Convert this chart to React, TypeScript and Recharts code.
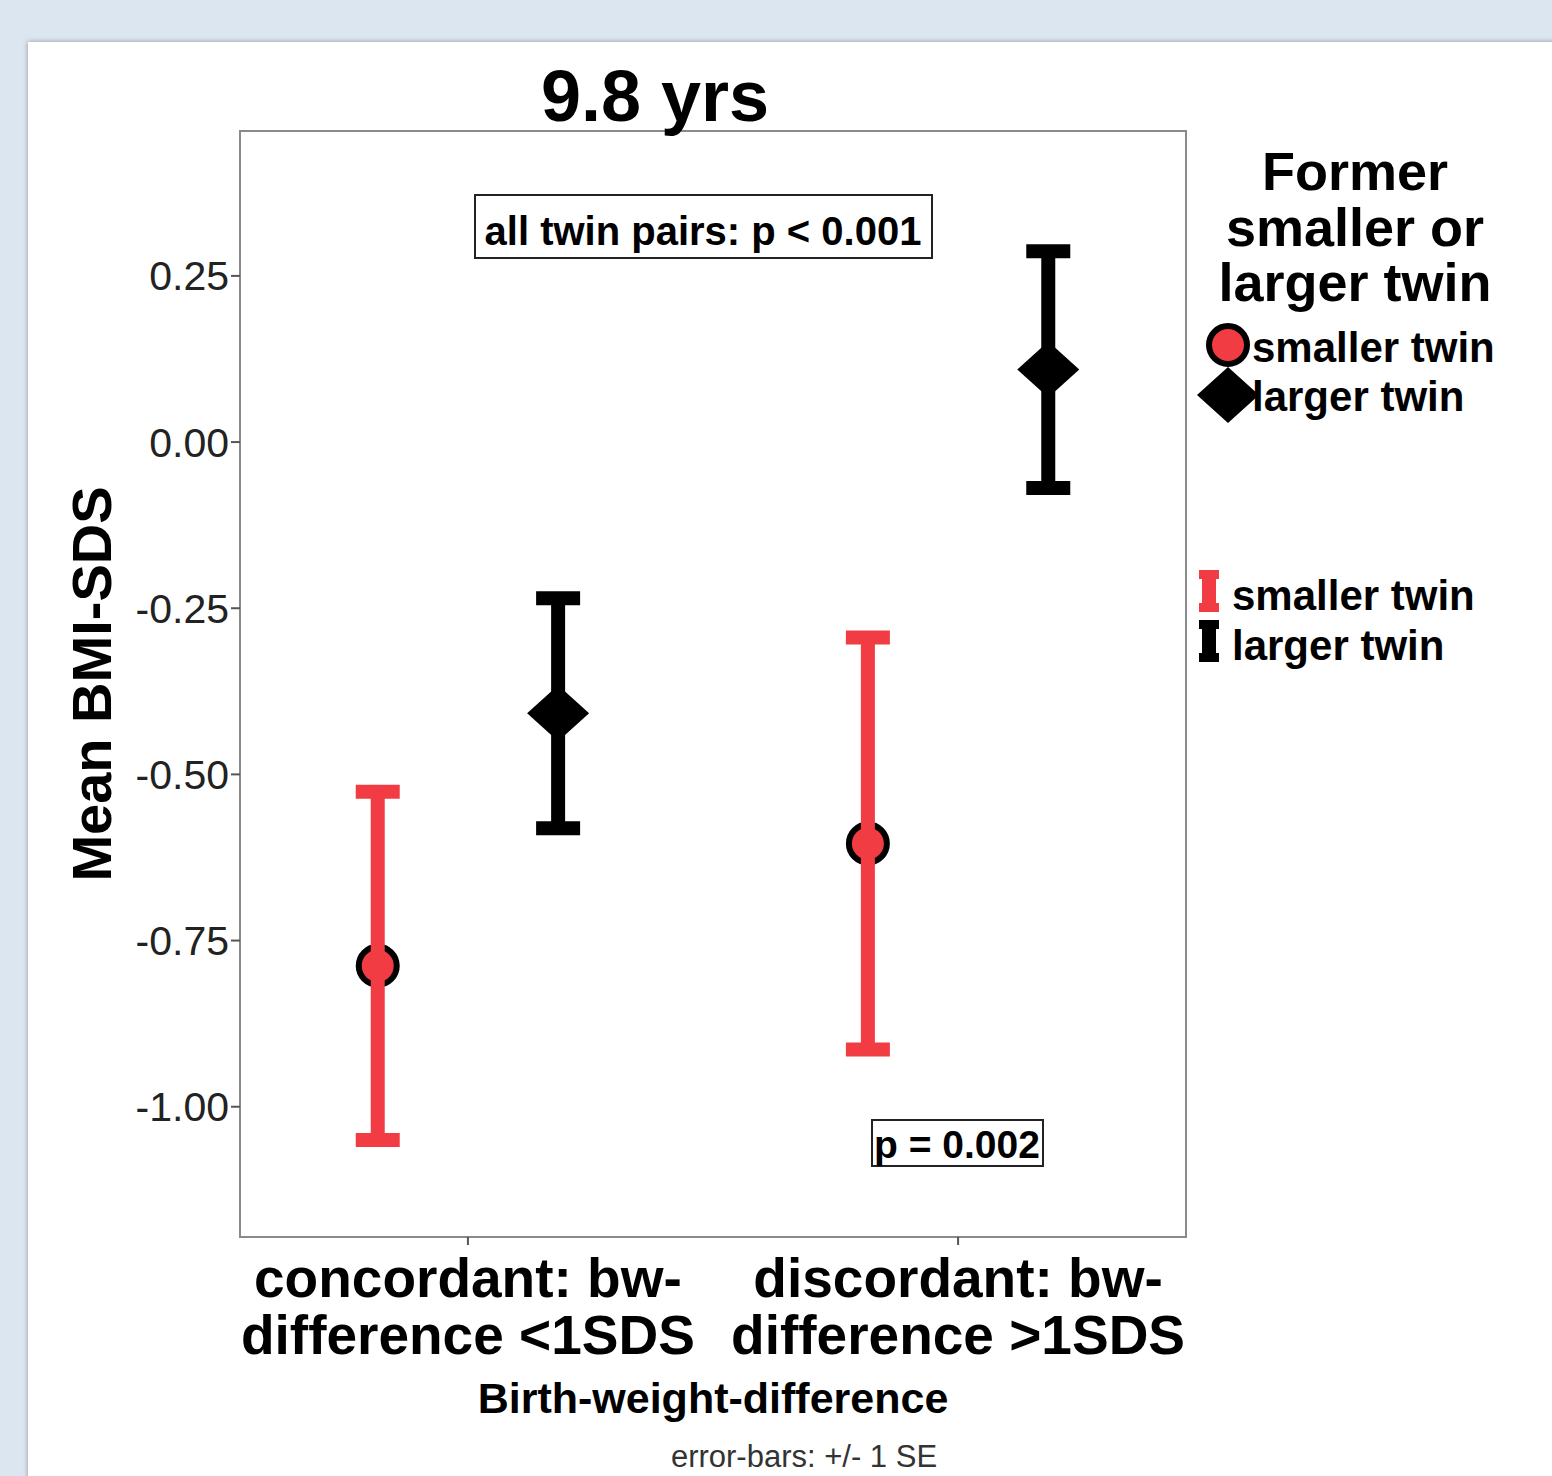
import { ScatterChart, Scatter, XAxis, YAxis, ErrorBar } from 'recharts';

// groups on the x axis
const categories = ['concordant', 'discordant'];
const categoryLabels = [
  ['concordant: bw-', 'difference <1SDS'],
  ['discordant: bw-', 'difference >1SDS'],
];

// mean BMI-SDS at 9.8 yrs and +/- 1 SE
const smallerMean = [-0.788, -0.604];
const smallerSE = [0.262, 0.31];
const largerMean = [-0.408, 0.109];
const largerSE = [0.173, 0.178];

const yTicks = [0.25, 0, -0.25, -0.5, -0.75, -1.0];

const DODGE = 0.184;
const RED = '#f03c42';
const FONT = '"Liberation Sans", Arial, Helvetica, sans-serif';

const smallerData = categories.map((c, i) => ({ name: c, x: i - DODGE, mean: smallerMean[i], se: smallerSE[i] }));
const largerData = categories.map((c, i) => ({ name: c, x: i + DODGE, mean: largerMean[i], se: largerSE[i] }));

const CircleShape = (props: any) => (
  <circle cx={props.cx} cy={props.cy} r={19} fill={RED} stroke="#000" strokeWidth={6} />
);

const DiamondShape = (props: any) => {
  const { cx, cy } = props;
  return <polygon points={`${cx - 31},${cy} ${cx},${cy - 28} ${cx + 31},${cy} ${cx},${cy + 28}`} fill="#000" />;
};

const NoShape = () => <g />;

const XTick = (props: any) => {
  const { x, y, payload } = props;
  const lines = categoryLabels[Math.round(payload.value)] || [];
  return (
    <text x={x} y={y} textAnchor="middle" fontFamily={FONT} fontWeight="bold" fontSize={55} fill="#000">
      {lines.map((l, i) => (
        <tspan key={i} x={x} dy={i === 0 ? 50 : 57}>
          {l}
        </tspan>
      ))}
    </text>
  );
};

export default function App() {
  return (
    <div style={{ position: 'absolute', left: 0, top: 0, width: 1552, height: 1476, background: '#dce6f1', overflow: 'hidden' }}>
      <div
        style={{
          position: 'absolute',
          left: 28,
          top: 42,
          width: 1540,
          height: 1450,
          background: '#fff',
          boxShadow: '0 0 5px rgba(0,0,0,0.35)',
        }}
      />
      <svg width={1552} height={1476} style={{ position: 'absolute', left: 0, top: 0 }}>
        <rect x={240} y={131} width={946} height={1106} fill="none" stroke="#8a8a8a" strokeWidth={2} />
      </svg>
      <div style={{ position: 'absolute', left: 0, top: 0 }}>
        <ScatterChart width={1552} height={1476} margin={{ top: 131, right: 366, bottom: 139, left: 140 }}>
          <XAxis
            type="number"
            dataKey="x"
            domain={[-0.465, 1.465]}
            ticks={[0, 1]}
            allowDataOverflow
            axisLine={false}
            tickLine={{ stroke: '#555', strokeWidth: 2 }}
            tickSize={8}
            height={100}
            tick={<XTick />}
            interval={0}
          />
          <YAxis
            type="number"
            dataKey="mean"
            domain={[-1.196, 0.468]}
            ticks={yTicks}
            allowDataOverflow
            axisLine={false}
            tickLine={{ stroke: '#555', strokeWidth: 2 }}
            tickSize={9}
            width={100}
            interval={0}
            tickFormatter={(v: number) => v.toFixed(2)}
            tick={{ fontSize: 41, fill: '#222', fontFamily: FONT }}
          />
          <Scatter data={smallerData} shape={<CircleShape />} isAnimationActive={false} zIndex={500} />
          <Scatter data={largerData} shape={<DiamondShape />} isAnimationActive={false} zIndex={500} />
          <Scatter data={smallerData} shape={<NoShape />} isAnimationActive={false} zIndex={900}>
            <ErrorBar dataKey="se" direction="y" stroke={RED} strokeWidth={14} width={22} isAnimationActive={false} zIndex={900} />
          </Scatter>
          <Scatter data={largerData} shape={<NoShape />} isAnimationActive={false} zIndex={900}>
            <ErrorBar dataKey="se" direction="y" stroke="#000" strokeWidth={14} width={22} isAnimationActive={false} zIndex={900} />
          </Scatter>
        </ScatterChart>
      </div>
      <svg width={1552} height={1476} style={{ position: 'absolute', left: 0, top: 0, pointerEvents: 'none' }} fontFamily={FONT}>
        <text x={655} y={121} textAnchor="middle" fontSize={72} fontWeight="bold" fill="#000">9.8 yrs</text>
        <text x={111} y={684} textAnchor="middle" fontSize={56} fontWeight="bold" fill="#000" transform="rotate(-90 111 684)">
          Mean BMI-SDS
        </text>
        <text x={713} y={1413} textAnchor="middle" fontSize={43} fontWeight="bold" fill="#000">Birth-weight-difference</text>
        <text x={804} y={1467} textAnchor="middle" fontSize={31} fill="#333">error-bars: +/- 1 SE</text>

        <rect x={475} y={195} width={457} height={63} fill="#fff" stroke="#222" strokeWidth={2} />
        <text x={703} y={245} textAnchor="middle" fontSize={40} fontWeight="bold" fill="#000">all twin pairs: p &lt; 0.001</text>
        <rect x={872} y={1120} width={171} height={46} fill="#fff" stroke="#222" strokeWidth={2} />
        <text x={957} y={1158} textAnchor="middle" fontSize={39} fontWeight="bold" fill="#000">p = 0.002</text>

        <text x={1355} textAnchor="middle" fontSize={54} fontWeight="bold" fill="#000">
          <tspan x={1355} y={190}>Former</tspan>
          <tspan x={1355} y={246}>smaller or</tspan>
          <tspan x={1355} y={301}>larger twin</tspan>
        </text>
        <circle cx={1228} cy={345} r={19} fill={RED} stroke="#000" strokeWidth={6} />
        <text x={1252} y={362} fontSize={42} fontWeight="bold" fill="#000">smaller twin</text>
        <polygon points="1197,395 1228,367 1259,395 1228,423" fill="#000" />
        <text x={1252} y={411} fontSize={42} fontWeight="bold" fill="#000">larger twin</text>

        <rect x={1199} y={570} width={20} height={9} fill={RED} />
        <rect x={1202} y={570} width={14} height={42} fill={RED} />
        <rect x={1199} y={603} width={20} height={9} fill={RED} />
        <text x={1232} y={610} fontSize={42} fontWeight="bold" fill="#000">smaller twin</text>
        <rect x={1199} y={620} width={20} height={9} fill="#000" />
        <rect x={1202} y={620} width={14} height={42} fill="#000" />
        <rect x={1199} y={653} width={20} height={9} fill="#000" />
        <text x={1232} y={660} fontSize={42} fontWeight="bold" fill="#000">larger twin</text>
      </svg>
    </div>
  );
}
